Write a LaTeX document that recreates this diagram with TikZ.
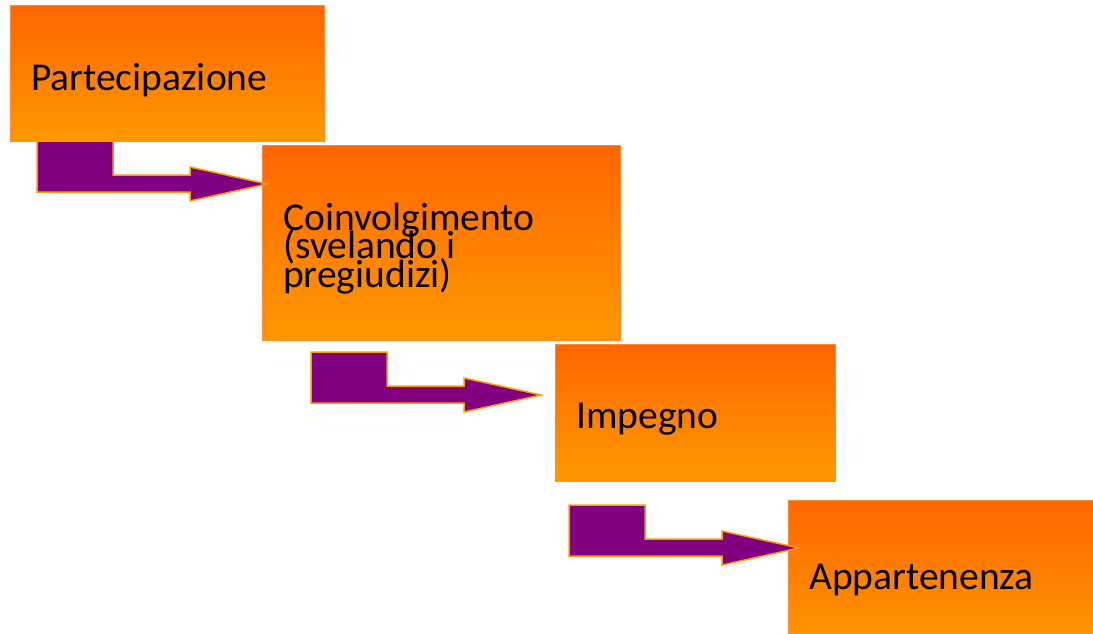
\documentclass[tikz,border=0pt]{standalone}
\usepackage{fontspec}
\setmainfont{Carlito}
\usepackage{tikz}
\usetikzlibrary{positioning}
\definecolor{stepdark}{RGB}{255,102,0}
\definecolor{steplight}{RGB}{255,153,0}
\definecolor{stepline}{RGB}{255,140,50}
\definecolor{arrowfill}{RGB}{128,0,128}
\definecolor{arrowline}{RGB}{255,153,0}
% tight lines, as in the original slide
\newcommand{\tightlines}{\lineskiplimit=-100pt\relax\lineskip=0pt\relax}
\tikzset{%
    stepbox/.style={
        rectangle, draw=stepline, line width=1pt,
        top color=stepdark, bottom color=steplight,
        anchor=north west, inner sep=0pt
    }
}
\tikzset{steptext/.style={anchor=base west, inner sep=0pt, align=left,
    font=\fontsize{39.5}{28.5}\selectfont, execute at begin node=\tightlines}}
\tikzset{%
    bentarrow/.pic={
        \filldraw[fill=arrowfill, draw=arrowline, line width=1.5pt]
            (0,0) -- (76,0) -- (76,34) -- (153,34) -- (153,26) -- (230,43)
            -- (153,60) -- (153,51) -- (0,51) -- cycle;
    }
}

\begin{document}
\begin{tikzpicture}[x=1pt, y=-1pt]
    \useasboundingbox (0,0) rectangle (1093,633);
    \clip (0,0) rectangle (1093,633);

    % the four steps
    \node[stepbox, minimum width=314pt, minimum height=136pt] (part) at (10,5) {};
    \node[stepbox, minimum width=358pt, minimum height=195pt] (coinv) at (262,145) {};
    \node[stepbox, minimum width=280pt, minimum height=137pt] (imp) at (555,344) {};
    \node[stepbox, minimum width=320pt, minimum height=150pt] (app) at (788,500) {};

    \node[steptext] (parttext) at (31,90) {Partecipazione};
    \node[steptext] (coinvtext) at (283,287) {Coinvolgimento\\(svelando i\\pregiudizi)};
    \node[steptext] (imptext) at (576,428) {Impegno};
    \node[steptext] (apptext) at (809,589) {Appartenenza};

    % bent arrows between the steps
    \pic at (37,141) {bentarrow};
    \pic at (311,352) {bentarrow};
    \pic at (569,505) {bentarrow};
\end{tikzpicture}
\end{document}
